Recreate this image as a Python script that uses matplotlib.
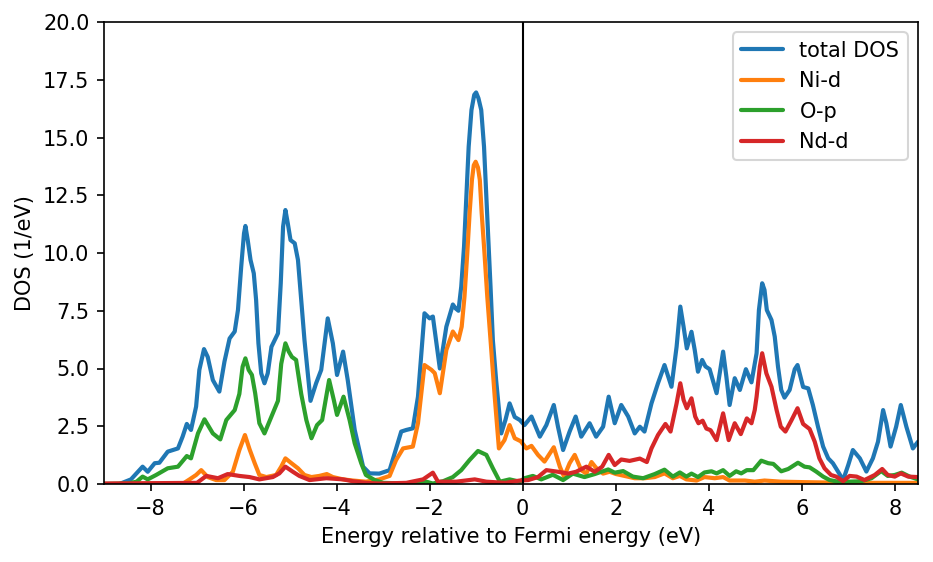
import matplotlib
matplotlib.use("Agg")
import matplotlib.pyplot as plt

# ---- data ----
e_total = [-9.0, -8.67, -8.42, -8.17, -8.06, -7.91, -7.81, -7.63, -7.41, -7.31, -7.22, -7.13, -7.02, -6.95,
           -6.85, -6.77, -6.66, -6.52, -6.41, -6.30, -6.19, -6.12, -6.05, -5.99, -5.96, -5.91, -5.85, -5.78,
           -5.73, -5.68, -5.62, -5.55, -5.48, -5.40, -5.33, -5.26, -5.20, -5.15, -5.10, -5.05, -4.99, -4.90,
           -4.83, -4.76, -4.69, -4.62, -4.56, -4.44, -4.33, -4.19, -4.08, -3.99,
           -3.86, -3.76, -3.61, -3.43, -3.29, -3.08, -2.86, -2.75, -2.61, -2.50, -2.36, -2.25, -2.11, -2.00,
           -1.93, -1.78, -1.64, -1.50, -1.44, -1.38, -1.32, -1.26, -1.21, -1.16, -1.10, -1.04, -1.00, -0.95,
           -0.89, -0.83, -0.78, -0.73, -0.69, -0.64, -0.57, -0.50, -0.46, -0.37, -0.28,
           -0.17, -0.06, 0.04, 0.19, 0.37, 0.51, 0.67, 0.76, 0.87, 1.01, 1.14, 1.26, 1.44, 1.58, 1.73, 1.85,
           1.98, 2.12, 2.27, 2.41, 2.52, 2.62, 2.77, 2.91, 3.05, 3.20, 3.31, 3.39, 3.46, 3.53, 3.63, 3.70,
           3.77, 3.86, 3.93, 4.02, 4.17, 4.31, 4.38, 4.45, 4.56, 4.67, 4.80, 4.92, 5.03, 5.08, 5.15, 5.20,
           5.25, 5.35, 5.42, 5.49, 5.56, 5.63, 5.74, 5.85, 5.91, 6.03, 6.14, 6.24, 6.35, 6.46, 6.57, 6.67,
           6.78, 6.89, 7.00, 7.10, 7.25, 7.39, 7.53, 7.64, 7.75, 7.82, 7.91, 8.03, 8.13, 8.25, 8.39, 8.50]
dos_total = [0.0, 0.0, 0.2, 0.75, 0.53, 0.9, 0.92, 1.4, 1.54, 2.05, 2.6, 2.34, 3.35, 4.94,
             5.84, 5.5, 4.5, 4.0, 5.3, 6.3, 6.6, 7.53, 9.41, 10.85, 11.17, 10.56, 9.7, 9.12,
             7.97, 6.09, 4.79, 4.36, 4.79, 5.94, 6.23, 6.52, 8.69, 11.14, 11.86, 11.3, 10.56, 10.42,
             9.7, 7.97, 6.23, 4.79, 3.6, 4.36, 4.94, 7.17, 6.09, 4.72,
             5.73, 4.5, 2.34, 0.75, 0.46, 0.45, 0.6, 1.33, 2.27, 2.34, 2.41, 3.78, 7.39, 7.17,
             7.25, 5.0, 6.81, 7.77, 7.6, 7.5, 8.54, 10.27, 12.44, 14.6, 16.19, 16.85, 16.95, 16.7,
             16.19, 14.6, 12.44, 10.27, 8.54, 6.23, 4.5, 3.0, 2.19, 2.77, 3.49,
             2.9, 2.77, 2.55, 2.92, 2.05, 2.55, 3.42, 2.48, 1.47, 2.27, 2.92, 2.05, 2.63, 2.05, 2.48, 3.78,
             2.63, 3.42, 2.92, 2.19, 2.48, 2.27, 3.49, 4.36, 5.15, 4.21, 5.94, 7.68, 6.81, 5.87, 6.59, 5.8,
             4.86, 5.37, 5.09, 4.97, 3.93, 5.73, 4.65, 3.42, 4.58, 4.07, 4.97, 4.4, 5.66, 7.53, 8.69, 8.4,
             7.53, 7.1, 6.38, 5.08, 4.07, 3.74, 4.07, 4.97, 5.15, 4.2, 4.14, 3.42, 2.48, 1.62, 1.11, 0.9,
             0.54, 0.17, 0.82, 1.47, 1.11, 0.54, 1.11, 1.83, 3.2, 2.63, 1.62, 2.48, 3.42, 2.48, 1.54, 1.83]

e_ni = [-9.0, -7.3, -7.16, -7.02, -6.91, -6.77, -6.59, -6.41, -6.23, -6.09, -5.97, -5.87, -5.76, -5.66,
        -5.51, -5.30, -5.19, -5.10, -4.97, -4.83, -4.69, -4.54, -4.37, -4.21, -4.08, -3.86, -3.65, -3.37,
        -3.08, -2.86, -2.72, -2.57, -2.36, -2.25, -2.11, -1.96, -1.89, -1.78, -1.64, -1.50, -1.38, -1.31,
        -1.25, -1.19, -1.14, -1.09, -1.05, -1.01, -0.96, -0.92, -0.88, -0.82, -0.76, -0.69, -0.60, -0.51,
        -0.39, -0.28, -0.17, -0.04, 0.08, 0.19, 0.33, 0.47,
        0.67, 0.80, 0.89, 1.01, 1.12, 1.26, 1.37, 1.48, 1.58, 1.73, 1.87, 2.01, 2.19, 2.41, 2.62, 2.84,
        3.05, 3.23, 3.38, 3.52, 3.74, 3.91, 4.13, 4.31, 4.45, 4.78, 4.99, 5.20, 5.56, 6.06, 7.00, 8.50]
dos_ni = [0.0, 0.02, 0.2, 0.39, 0.6, 0.3, 0.17, 0.17, 0.53, 1.47, 2.12, 1.5, 0.9, 0.39,
          0.3, 0.39, 0.75, 1.11, 0.9, 0.68, 0.39, 0.3, 0.35, 0.43, 0.3, 0.2, 0.15, 0.1,
          0.2, 0.35, 1.04, 1.54, 1.62, 2.63, 5.15, 4.94, 4.8, 3.93, 5.8, 6.6, 6.23, 6.81,
          8.11, 9.99, 11.72, 13.16, 13.8, 13.95, 13.7, 13.16, 11.72, 9.99, 8.11, 6.23, 3.78, 1.54,
          1.9, 2.55, 1.98, 1.85, 1.54, 1.65, 1.26, 0.97,
          1.59, 0.75, 0.32, 0.9, 1.26, 0.6, 0.45, 0.95, 0.7, 0.45, 0.53, 0.43, 0.35, 0.25, 0.25, 0.3,
          0.46, 0.25, 0.35, 0.2, 0.15, 0.3, 0.25, 0.3, 0.15, 0.15, 0.1, 0.15, 0.1, 0.08, 0.05, 0.05]

e_op = [-9.0, -8.5, -8.30, -8.17, -8.06, -7.88, -7.63, -7.41, -7.22, -7.13, -6.98, -6.84, -6.66, -6.50,
        -6.37, -6.19, -6.09, -6.02, -5.96, -5.89, -5.82, -5.75, -5.66, -5.55, -5.40, -5.26, -5.19, -5.10,
        -5.03, -4.96, -4.87, -4.76, -4.65, -4.54, -4.42, -4.31, -4.16, -4.06, -3.99, -3.85, -3.72, -3.61,
        -3.47, -3.37, -3.18,
        -3.00, -2.50, -2.07, -1.93, -1.71, -1.50, -1.32, -1.14, -0.96, -0.78, -0.64, -0.49, -0.28, -0.06,
        0.04, 0.22, 0.40, 0.65, 0.87, 1.08, 1.33, 1.55, 1.84, 1.98, 2.16, 2.37, 2.59, 2.84, 3.05, 3.23,
        3.38, 3.52, 3.63, 3.77, 3.91, 4.06, 4.17, 4.31, 4.45, 4.59, 4.70, 4.82, 4.96, 5.13, 5.28, 5.39,
        5.56, 5.71, 5.92, 6.06, 6.17, 6.31, 6.46, 6.60, 6.78, 7.00, 7.28, 7.50, 7.71, 7.85, 8.00, 8.15,
        8.32, 8.50]
dos_op = [0.0, 0.02, 0.1, 0.32, 0.2, 0.39, 0.68, 0.75, 1.21, 1.11, 2.19, 2.8, 2.19, 1.93,
          2.77, 3.2, 3.9, 5.08, 5.44, 4.94, 4.72, 3.93, 2.63, 2.19, 2.92, 3.6, 5.2, 6.09,
          5.74, 5.5, 5.37, 3.9, 2.77, 1.98, 2.55, 2.77, 4.5, 3.64, 2.99, 3.78, 2.77, 1.76,
          0.9, 0.39, 0.17,
          0.05, 0.02, 0.1, 0.02, 0.12, 0.3, 0.6, 1.04, 1.43, 1.26, 0.68, 0.1, 0.2, 0.1,
          0.25, 0.35, 0.2, 0.4, 0.17, 0.45, 0.3, 0.43, 0.63, 0.49, 0.56, 0.32, 0.25, 0.43, 0.62, 0.32,
          0.5, 0.32, 0.45, 0.3, 0.5, 0.55, 0.46, 0.6, 0.35, 0.55, 0.46, 0.6, 0.6, 1.01, 0.9, 0.87,
          0.55, 0.65, 0.92, 0.75, 0.72, 0.54, 0.32, 0.17, 0.1, 0.1, 0.12, 0.25, 0.56, 0.35, 0.39, 0.49,
          0.32, 0.2]

e_nd = [-9.0, -7.0, -6.80, -6.55, -6.34, -6.09, -5.87, -5.66, -5.37, -5.23, -5.10, -4.94, -4.80, -4.58,
        -4.22, -3.86, -3.65, -3.37, -3.08, -2.50, -2.14, -1.93, -1.82, -1.43, -1.03, -0.78, -0.37, -0.06,
        0.12, 0.33, 0.51, 0.76, 0.98, 1.15, 1.37, 1.55, 1.71, 1.85, 1.98, 2.12, 2.30, 2.52, 2.67, 2.77,
        2.91, 3.07, 3.18, 3.31, 3.39, 3.46, 3.53, 3.63, 3.71, 3.78, 3.87, 3.95, 4.04, 4.17, 4.31, 4.43,
        4.56, 4.69, 4.82, 4.92, 4.99, 5.03, 5.10, 5.15, 5.24, 5.35, 5.46, 5.55, 5.65, 5.78, 5.91, 6.03, 6.17,
        6.28, 6.38, 6.49, 6.63, 6.74, 6.89, 7.03, 7.18, 7.35, 7.57, 7.73, 7.85, 8.00, 8.13, 8.29, 8.50]
dos_nd = [0.02, 0.05, 0.35, 0.25, 0.43, 0.35, 0.3, 0.2, 0.3, 0.46, 0.75, 0.53, 0.35, 0.17,
          0.25, 0.2, 0.12, 0.05, 0.02, 0.05, 0.2, 0.49, 0.1, 0.1, 0.2, 0.1, 0.05, 0.15,
          0.17, 0.3, 0.6, 0.53, 0.45, 0.53, 0.75, 0.53, 0.75, 1.26, 0.82, 1.06, 1.0, 1.1, 0.95, 1.54,
          2.12, 2.6, 2.27, 3.49, 4.36, 3.64, 3.28, 3.71, 2.92, 2.63, 2.74, 2.4, 2.33, 1.9, 3.06, 1.9,
          2.63, 2.16, 2.84, 2.63, 3.2, 3.78, 5.08, 5.66, 4.79, 4.21, 3.2, 2.48, 2.27, 2.76, 3.28, 2.6, 2.38,
          1.83, 1.11, 0.68, 0.39, 0.32, 0.12, 0.35, 0.32, 0.17, 0.39, 0.65, 0.39, 0.32, 0.46, 0.32, 0.3]

labels = ["total DOS", "Ni-d", "O-p", "Nd-d"]

fig = plt.figure(figsize=(933 / 150, 562 / 150), dpi=150)
ax = fig.add_axes([104 / 933, 1 - 484 / 562, (918 - 104) / 933, (484 - 22) / 562])

style = dict(lw=2, solid_joinstyle="round", solid_capstyle="round")
ax.plot(e_total, dos_total, label=labels[0], **style)
ax.plot(e_ni, dos_ni, label=labels[1], **style)
ax.plot(e_op, dos_op, label=labels[2], **style)
ax.plot(e_nd, dos_nd, label=labels[3], **style)
ax.axvline(0, color="k", lw=1)

ax.set_xlim(-9, 8.5)
ax.set_ylim(0, 20)
ax.set_xlabel("Energy relative to Fermi energy (eV)")
ax.set_ylabel("DOS (1/eV)")
ax.legend(loc="upper right")

fig.savefig("out.png", dpi=150)
